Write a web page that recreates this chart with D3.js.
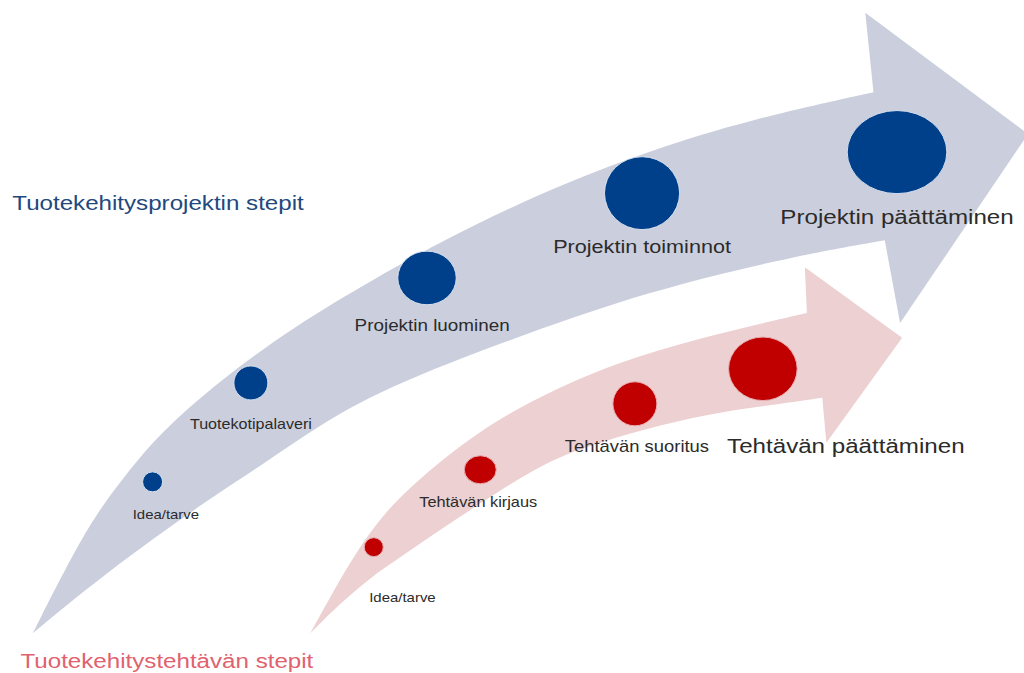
<!DOCTYPE html>
<html>
<head>
<meta charset="utf-8">
<script src="https://cdn.jsdelivr.net/npm/d3@7"></script>
<style>
body{margin:0;background:#fff;}
svg{display:block;}
text{font-family:"Liberation Sans",Arial,sans-serif;}
</style>
</head>
<body>
<script>
//steps of the product development project (big grey arrow)
var projectSteps = ["Idea/tarve", "Tuotekotipalaveri", "Projektin luominen", "Projektin toiminnot", "Projektin päättäminen"];
var projectX = [14.9, 24.5, 41.7, 62.7, 87.6];
var projectY = [28.4, 43.1, 58.7, 71.3, 77.4];
var projectSize = [20, 34, 56, 74, 91];

//steps of the product development task (small red arrow)
var taskSteps = ["Idea/tarve", "Tehtävän kirjaus", "Tehtävän suoritus", "Tehtävän päättäminen"];
var taskX = [36.5, 46.9, 62.0, 74.5];
var taskY = [18.7, 30.2, 40.0, 45.2];
var taskSize = [19, 30, 44, 66];

//titles
var titles = ["Tuotekehitysprojektin stepit", "Tuotekehitystehtävän stepit"];

//arrow outlines (same 0-100 units as the steps)
var projectUpper = [[3.2,5.9],[8.3,21.3],[11.7,28.4],[15.6,35.7],[21.5,43.5],[28.6,51.4],[36.8,58.8],[43.3,64.3],[52.7,71.3],[63.5,77.7],[73.2,82.2],[85.3,86.3]];
var projectLower = [[3.2,5.9],[10.1,14.6],[20.2,25.7],[25.9,31.2],[31.9,37.6],[38.4,42.8],[48.8,49.0],[63.5,56.9],[78.1,62.1],[86.4,64.3]];
var projectHead = [[84.5,98.1],[100.4,80.1],[87.9,52.0]];
var taskUpper = [[30.3,5.9],[32.4,11.7],[34.9,18.3],[37.6,23.9],[40.8,28.7],[46.6,35.8],[52.4,40.9],[60.5,46.4],[70.3,50.5],[78.8,53.5]];
var taskLower = [[30.3,5.9],[33.2,10.3],[36.1,14.1],[39.1,17.2],[43.0,21.3],[48.5,26.8],[53.7,31.7],[58.6,34.3],[64.5,36.9],[70.3,38.8],[76.2,40.0],[80.3,40.9]];
var taskHead = [[78.6,60.3],[88.1,49.8],[80.7,34.2]];

//layout: label spots, font sizes, bubble squash
var projectLabelX = [16.2, 24.5, 42.2, 62.7, 87.6];
var projectLabelY = [23.5, 37.0, 51.6, 63.3, 67.8];
var projectFont = [13, 14, 16.4, 18.8, 21];
var projectAspect = [1, 1, 1.09, 1.03, 1.2];
var taskLabelX = [39.3, 46.7, 62.2, 82.6];
var taskLabelY = [11.3, 25.4, 33.7, 33.7];
var taskFont = [13, 14.2, 16, 21];
var taskAspect = [1, 1.14, 1, 1.08];
var titleX = [1.2, 2.0];
var titleY = [69.8, 1.8];

var width = 1024,
	height = 673,
	stretch = 1.15; //text in the picture is a bit wide

var svg = d3.select("body")
	.append("svg")
	.attr("width", width)
	.attr("height", height);

var x = d3.scaleLinear().domain([0, 100]).range([0, width]);
var y = d3.scaleLinear().domain([0, 100]).range([height, 0]);
var r = d3.scaleLinear().domain([0, 100]).range([0, 50]);

var edge = d3.line()
	.x(function(d){ return x(d[0]); })
	.y(function(d){ return y(d[1]); })
	.curve(d3.curveBasis);

//build closed arrow path: upper edge, head, lower edge back to the tail
function arrowPath(upper, head, lower){
	var p = edge(upper);
	head.forEach(function(h){
		p += "L" + x(h[0]) + "," + y(h[1]);
	});
	var back = edge(lower.slice().reverse());
	p += "L" + back.slice(1);
	return p + "Z";
}

svg.append("path")
	.attr("class", "arrow project")
	.attr("d", arrowPath(projectUpper, projectHead, projectLower))
	.style("fill", "#cbcfdd");

svg.append("path")
	.attr("class", "arrow task")
	.attr("d", arrowPath(taskUpper, taskHead, taskLower))
	.style("fill", "#ecd0d2");

function drawSteps(cls, names, xs, ys, sizes, aspect, lx, ly, fonts, color, stroke){
	var rows = names.map(function(n, i){
		return {name: n, x: xs[i], y: ys[i], size: sizes[i], aspect: aspect[i], lx: lx[i], ly: ly[i], font: fonts[i]};
	});

	svg.selectAll(".dot." + cls)
		.data(rows)
		.enter()
		.append("ellipse")
		.attr("class", "dot " + cls)
		.attr("cx", function(d){ return x(d.x); })
		.attr("cy", function(d){ return y(d.y); })
		.attr("rx", function(d){ return r(d.size) * Math.sqrt(d.aspect); })
		.attr("ry", function(d){ return r(d.size) / Math.sqrt(d.aspect); })
		.style("fill", color)
		.style("stroke", stroke)
		.style("stroke-width", 1);

	svg.selectAll(".label." + cls)
		.data(rows)
		.enter()
		.append("text")
		.attr("class", "label " + cls)
		.attr("transform", function(d){
			return "translate(" + x(d.lx) + "," + y(d.ly) + ") scale(" + stretch + ",1)";
		})
		.attr("text-anchor", "middle")
		.attr("dominant-baseline", "central")
		.style("font-size", function(d){ return d.font + "px"; })
		.style("fill", "#2b2b2b")
		.text(function(d){ return d.name; });
}

drawSteps("project", projectSteps, projectX, projectY, projectSize, projectAspect,
	projectLabelX, projectLabelY, projectFont, "#003f8a", "#d6e0ee");
drawSteps("task", taskSteps, taskX, taskY, taskSize, taskAspect,
	taskLabelX, taskLabelY, taskFont, "#c00000", "#e8b0b4");

//the two titles
var titleColors = ["#1f497d", "#e0626e"];
svg.selectAll(".title")
	.data(titles)
	.enter()
	.append("text")
	.attr("class", "title")
	.attr("transform", function(d, i){
		return "translate(" + x(titleX[i]) + "," + y(titleY[i]) + ") scale(" + stretch + ",1)";
	})
	.attr("dominant-baseline", "central")
	.style("font-size", "21px")
	.style("fill", function(d, i){ return titleColors[i]; })
	.text(function(d){ return d; });
</script>
</body>
</html>
